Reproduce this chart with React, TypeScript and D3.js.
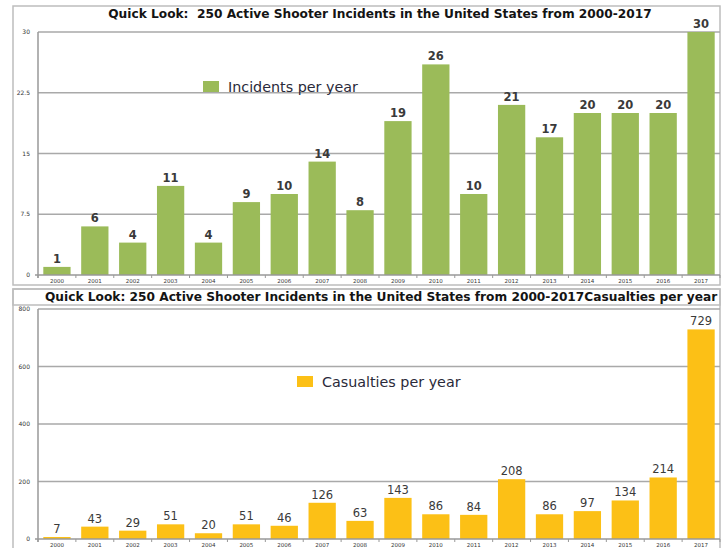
import React, { useEffect, useRef } from 'react';
import * as d3 from 'd3';

const years = ['2000', '2001', '2002', '2003', '2004', '2005', '2006', '2007', '2008',
  '2009', '2010', '2011', '2012', '2013', '2014', '2015', '2016', '2017'];
const incidents = [1, 6, 4, 11, 4, 9, 10, 14, 8, 19, 26, 10, 21, 17, 20, 20, 20, 30];
const casualties = [7, 43, 29, 51, 20, 51, 46, 126, 63, 143, 86, 84, 208, 86, 97, 134, 214, 729];
const incidentTicks = [0, 7.5, 15, 22.5, 30];
const casualtyTicks = [0, 200, 400, 600, 800];

const FONT = '"DejaVu Sans", Verdana, sans-serif';

const App = () => {
  const svgRef = useRef<SVGSVGElement>(null);

  useEffect(() => {
    const svg = d3.select(svgRef.current);
    svg.selectAll('*').remove();

    const width = 726;
    const height = 548;
    svg.attr('width', width).attr('height', height);

    const x = d3.scaleBand<string>()
      .domain(years)
      .range([38, 720])
      .paddingInner(0.28)
      .paddingOuter(0.14);

    const drawPanel = (opts: {
      values: number[];
      ticks: number[];
      max: number;
      top: number;
      bottom: number;
      color: string;
      frame: [number, number];
      titleBox: [number, number] | null;
      title: string;
      titleX: number;
      titleY: number;
      titleAnchor: string;
      legend: string;
      legendX: number;
      legendY: number;
      labelWeight: string;
    }) => {
      const y = d3.scaleLinear().domain([0, opts.max]).range([opts.bottom, opts.top]);
      const g = svg.append('g');

      // outer frame
      g.append('rect')
        .attr('x', 13).attr('y', opts.frame[0])
        .attr('width', 707).attr('height', opts.frame[1] - opts.frame[0])
        .attr('fill', 'none').attr('stroke', '#bdbdbd').attr('stroke-width', 1.5);

      if (opts.titleBox) {
        g.append('rect')
          .attr('x', 13).attr('y', opts.titleBox[0])
          .attr('width', 707).attr('height', opts.titleBox[1] - opts.titleBox[0])
          .attr('fill', 'none').attr('stroke', '#bdbdbd').attr('stroke-width', 1.5);
      }

      g.append('text')
        .attr('x', opts.titleX).attr('y', opts.titleY)
        .attr('text-anchor', opts.titleAnchor)
        .style('white-space', 'pre')
        .style('font-family', FONT).style('font-size', '12.2px').style('font-weight', 'bold')
        .style('fill', '#141414')
        .text(opts.title);

      // gridlines
      g.selectAll('.grid')
        .data(opts.ticks.filter(t => t > 0))
        .enter().append('line')
        .attr('x1', 38).attr('x2', 720)
        .attr('y1', d => y(d)).attr('y2', d => y(d))
        .attr('stroke', '#a9a9a9').attr('stroke-width', 1.5);

      // y labels
      g.selectAll('.ylab')
        .data(opts.ticks)
        .enter().append('text')
        .attr('x', 30).attr('y', d => y(d) + 2)
        .attr('text-anchor', 'end')
        .style('font-family', FONT).style('font-size', '6px').style('fill', '#333')
        .text(d => d);

      // bars
      g.selectAll('.bar')
        .data(opts.values)
        .enter().append('rect')
        .attr('x', (d, i) => x(years[i])!)
        .attr('width', x.bandwidth())
        .attr('y', d => y(d))
        .attr('height', d => opts.bottom - y(d))
        .attr('fill', opts.color);

      // axes
      g.append('line')
        .attr('x1', 38).attr('x2', 38).attr('y1', opts.top).attr('y2', opts.bottom + 3)
        .attr('stroke', '#999').attr('stroke-width', 1.5);
      g.append('line')
        .attr('x1', 35).attr('x2', 720).attr('y1', opts.bottom).attr('y2', opts.bottom)
        .attr('stroke', '#999').attr('stroke-width', 1.5);

      g.selectAll('.xtick')
        .data(d3.range(years.length + 1))
        .enter().append('line')
        .attr('x1', i => 38 + i * x.step()).attr('x2', i => 38 + i * x.step())
        .attr('y1', opts.bottom).attr('y2', opts.bottom + 3)
        .attr('stroke', '#999').attr('stroke-width', 1);

      g.selectAll('.xlab')
        .data(years)
        .enter().append('text')
        .attr('x', d => x(d)! + x.bandwidth() / 2)
        .attr('y', opts.bottom + 8)
        .attr('text-anchor', 'middle')
        .style('font-family', FONT).style('font-size', '5.5px').style('fill', '#333')
        .text(d => d);

      // value labels
      g.selectAll('.vlab')
        .data(opts.values)
        .enter().append('text')
        .attr('x', (d, i) => x(years[i])! + x.bandwidth() / 2)
        .attr('y', d => y(d) - 4)
        .attr('text-anchor', 'middle')
        .style('font-family', FONT).style('font-size', '11.5px')
        .style('font-weight', opts.labelWeight).style('fill', '#3a3a3a')
        .text(d => d);

      // legend
      g.append('rect')
        .attr('x', opts.legendX).attr('y', opts.legendY - 11)
        .attr('width', 16).attr('height', 11)
        .attr('fill', opts.color);
      g.append('text')
        .attr('x', opts.legendX + 25).attr('y', opts.legendY)
        .style('font-family', FONT).style('font-size', '14.3px').style('fill', '#2a2a3a')
        .text(opts.legend);
    };

    drawPanel({
      values: incidents,
      ticks: incidentTicks,
      max: 30,
      top: 32,
      bottom: 275,
      color: '#9bbb59',
      frame: [6, 285],
      titleBox: null,
      title: 'Quick Look:  250 Active Shooter Incidents in the United States from 2000-2017',
      titleX: 380,
      titleY: 18,
      titleAnchor: 'middle',
      legend: 'Incidents per year',
      legendX: 203,
      legendY: 92,
      labelWeight: 'bold',
    });

    drawPanel({
      values: casualties,
      ticks: casualtyTicks,
      max: 800,
      top: 309,
      bottom: 539,
      color: '#fcc016',
      frame: [289, 560],
      titleBox: [289, 305],
      title: 'Quick Look: 250 Active Shooter Incidents in the United States from 2000-2017Casualties per year',
      titleX: 45,
      titleY: 301,
      titleAnchor: 'start',
      legend: 'Casualties per year',
      legendX: 297,
      legendY: 387,
      labelWeight: 'normal',
    });
  }, []);

  return (
    <svg ref={svgRef} style={{ position: 'absolute', left: 0, top: 0 }}></svg>
  );
};

export default App;
